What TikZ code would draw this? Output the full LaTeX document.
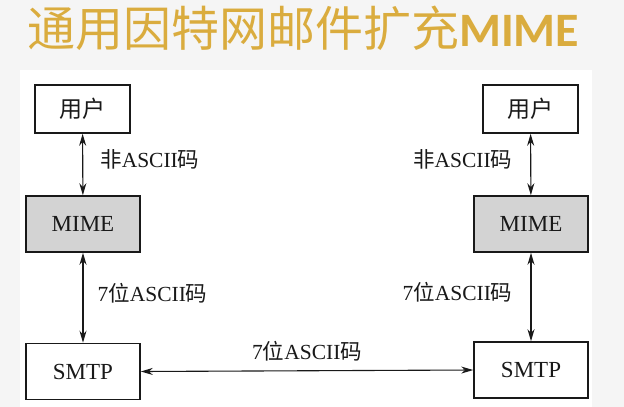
\documentclass[tikz,border=0pt]{standalone}
\usepackage{fontspec}
\setmainfont{Liberation Serif}
\newfontfamily\cjk{Noto Sans CJK SC}
\newfontfamily\titlelatin{Carlito}
\usetikzlibrary{arrows.meta}
\usetikzlibrary{positioning}
\definecolor{fg}{rgb}{0.1,0.1,0.1}
\definecolor{gold}{RGB}{218,172,62}
\definecolor{mimegray}{RGB}{211,211,211}
\definecolor{bg}{RGB}{245,245,245}
\tikzstyle{box}=[draw=fg, line width=1.6pt, minimum width=114pt, minimum height=56pt,
inner sep=0pt, anchor=center, text=fg, font=\fontsize{23}{26}\selectfont]
\tikzstyle{userbox}=[box, minimum width=95pt, minimum height=48pt]
\tikzstyle{mime}=[box, fill=mimegray]
\tikzstyle{myarrow}=[{Stealth[length=12pt,width=7pt]}-{Stealth[length=12pt,width=7pt]}, line width=1.1pt, draw=fg]
\tikzstyle{lbl}=[text=fg, inner sep=0pt, font=\fontsize{21.5}{24}\selectfont]

\begin{document}
\begin{tikzpicture}[x=1pt, y=-1pt]

    \fill[bg] (0,0) rectangle (624,407);
    \fill[white] (20,70) rectangle (592,407);
    \useasboundingbox (0,0) rectangle (624,407);

    \node[anchor=base west, inner sep=0pt, text=gold, font=\fontsize{48}{52}\selectfont] (title) at (27,46)
        {{\cjk 通用因特网邮件扩充}{\titlelatin\bfseries MIME}};

    % left side
    \node[userbox] (user1) at (82.5,109) {\cjk 用户};
    \node[mime] (mime1) at (83,224) {MIME};
    \node[box] (smtp1) at (83,371.5) {SMTP};
    \draw[myarrow] (user1) -- (mime1) node[lbl, pos=0.42, right=17pt] {{\cjk 非}ASCII{\cjk 码}};
    \draw[myarrow] (mime1) -- (smtp1) node[lbl, pos=0.45, right=14pt] {7{\cjk 位}ASCII{\cjk 码}};

    % right side
    \node[userbox] (user2) at (530.5,109) {\cjk 用户};
    \node[mime] (mime2) at (531,224) {MIME};
    \node[box] (smtp2) at (531,370) {SMTP};
    \draw[myarrow] (user2) -- (mime2) node[lbl, pos=0.42, left=18pt] {{\cjk 非}ASCII{\cjk 码}};
    \draw[myarrow] (mime2) -- (smtp2) node[lbl, pos=0.45, left=18pt] {7{\cjk 位}ASCII{\cjk 码}};

    % between the two mail servers
    \draw[myarrow] (smtp1.east) -- (smtp2.west) node[lbl, midway, above=9pt] {7{\cjk 位}ASCII{\cjk 码}};
\end{tikzpicture}
\end{document}
